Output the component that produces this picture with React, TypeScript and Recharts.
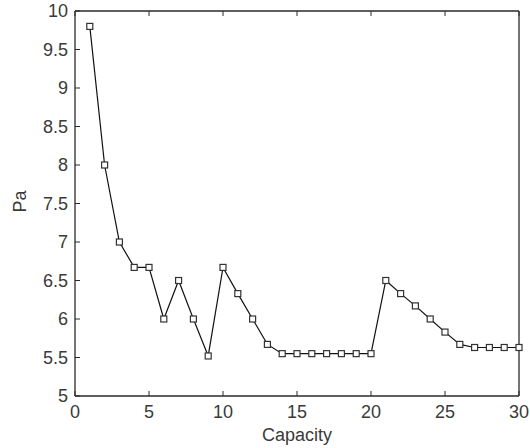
import { Line, LineChart, XAxis, YAxis } from 'recharts';

const capacity = [
  1, 2, 3, 4, 5, 6, 7, 8, 9, 10, 11, 12, 13, 14, 15,
  16, 17, 18, 19, 20, 21, 22, 23, 24, 25, 26, 27, 28, 29, 30,
];
const pa = [
  9.8, 8.0, 7.0, 6.67, 6.67, 6.0, 6.5, 6.0, 5.52, 6.67, 6.33, 6.0, 5.67, 5.55, 5.55,
  5.55, 5.55, 5.55, 5.55, 5.55, 6.5, 6.33, 6.17, 6.0, 5.83, 5.67, 5.63, 5.63, 5.63, 5.63,
];
const xTicks = [0, 5, 10, 15, 20, 25, 30];
const yTicks = [5, 5.5, 6, 6.5, 7, 7.5, 8, 8.5, 9, 9.5, 10];

const chartData = capacity.map((c, i) => ({ capacity: c, pa: pa[i] }));

const INK = '#2a2a2a';
const TEXT = '#3a3a3a';
const FONT = '"Liberation Sans", Arial, sans-serif';
const FS = 18;
const TICK_LEN = 5;
const GAP_X = 9;
const GAP_Y = 7;

function BottomTick(props: any) {
  const x = Number(props.x);
  const y = Number(props.y);
  const axisY = y - GAP_X;
  return (
    <g>
      <path d={`M${x},${axisY}V${axisY - TICK_LEN}`} stroke={INK} strokeWidth={1} fill="none" />
      <text x={x} y={y} dy="0.71em" textAnchor="middle" fontSize={FS} fill={TEXT} fontFamily={FONT}>
        {props.payload.value}
      </text>
    </g>
  );
}

function LeftTick(props: any) {
  const x = Number(props.x);
  const y = Number(props.y);
  const axisX = x + GAP_Y;
  return (
    <g>
      <path d={`M${axisX},${y}H${axisX + TICK_LEN}`} stroke={INK} strokeWidth={1} fill="none" />
      <text x={x} y={y} dy="0.355em" textAnchor="end" fontSize={FS} fill={TEXT} fontFamily={FONT}>
        {props.payload.value}
      </text>
    </g>
  );
}

function TopTick(props: any) {
  const x = Number(props.x);
  const axisY = Number(props.y) + GAP_X;
  return <path d={`M${x},${axisY}V${axisY + TICK_LEN}`} stroke={INK} strokeWidth={1} fill="none" />;
}

function RightTick(props: any) {
  const y = Number(props.y);
  const axisX = Number(props.x) - GAP_Y;
  return <path d={`M${axisX},${y}H${axisX - TICK_LEN}`} stroke={INK} strokeWidth={1} fill="none" />;
}

function SquareDot({ cx, cy }: any) {
  if (cx == null || cy == null) return null;
  return <rect x={cx - 3} y={cy - 3} width={6} height={6} fill="#fff" stroke="#333" strokeWidth={1.2} />;
}

export default function App() {
  return (
    <div style={{ width: 530, height: 448, background: '#fff' }}>
      <style>{'body{margin:0}'}</style>
      <LineChart width={530} height={448} data={chartData} margin={{ top: 10, right: 10, bottom: 0, left: 0 }}>
        <XAxis
          xAxisId="bottom"
          dataKey="capacity"
          type="number"
          domain={[0, 30]}
          ticks={xTicks}
          height={52}
          tickSize={0}
          tickMargin={GAP_X}
          tickLine={false}
          stroke={INK}
          strokeWidth={1.3}
          tick={<BottomTick />}
          interval={0}
          label={{
            content: ({ viewBox }: any) => (
              <text
                x={viewBox.x + viewBox.width / 2}
                y={viewBox.y + 32}
                dy="0.71em"
                textAnchor="middle"
                fontSize={FS}
                fill={TEXT}
                fontFamily={FONT}
              >
                Capacity
              </text>
            ),
          }}
        />
        <XAxis
          xAxisId="top"
          orientation="top"
          dataKey="capacity"
          type="number"
          domain={[0, 30]}
          ticks={xTicks}
          height={1}
          tickSize={0}
          tickMargin={GAP_X}
          tickLine={false}
          stroke={INK}
          strokeWidth={1.3}
          tick={<TopTick />}
          interval={0}
        />
        <YAxis
          yAxisId="left"
          type="number"
          domain={[5, 10]}
          ticks={yTicks}
          width={75}
          tickSize={0}
          tickMargin={GAP_Y}
          tickLine={false}
          stroke={INK}
          strokeWidth={1.3}
          tick={<LeftTick />}
          interval={0}
          label={{
            content: ({ viewBox }: any) => {
              const cx = viewBox.x + 20;
              const cy = viewBox.y + viewBox.height / 2 - 2;
              return (
                <text
                  x={cx}
                  y={cy}
                  dy="0.355em"
                  textAnchor="middle"
                  fontSize={FS}
                  fill={TEXT}
                  fontFamily={FONT}
                  transform={`rotate(-90 ${cx} ${cy})`}
                >
                  Pa
                </text>
              );
            },
          }}
        />
        <YAxis
          yAxisId="right"
          orientation="right"
          type="number"
          domain={[5, 10]}
          ticks={yTicks}
          width={1}
          tickSize={0}
          tickMargin={GAP_Y}
          tickLine={false}
          stroke={INK}
          strokeWidth={1.3}
          tick={<RightTick />}
          interval={0}
        />
        <Line
          xAxisId="bottom"
          yAxisId="left"
          type="linear"
          dataKey="pa"
          stroke="#111"
          strokeWidth={1.2}
          dot={<SquareDot />}
          activeDot={false}
          isAnimationActive={false}
        />
      </LineChart>
    </div>
  );
}
